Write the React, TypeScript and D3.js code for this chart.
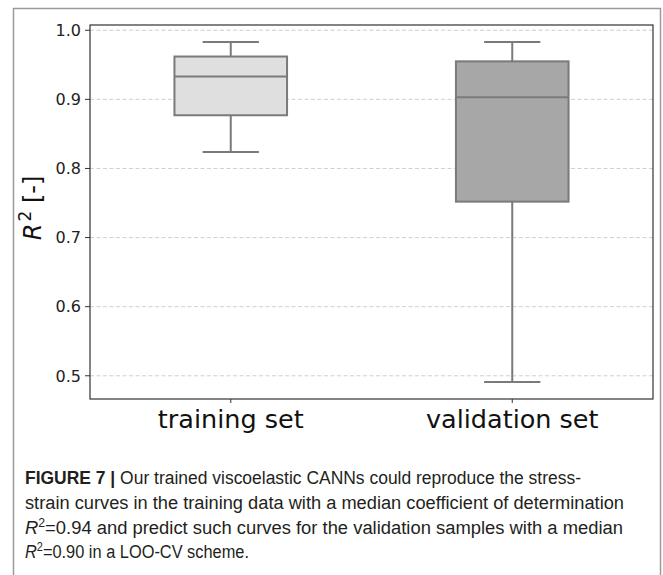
import React from "react";
import * as d3 from "d3";

// Box-plot summaries of R² per data split
const categories = ["training set", "validation set"];
const whiskerLow = [0.824, 0.491];
const q1 = [0.877, 0.752];
const median = [0.933, 0.903];
const q3 = [0.962, 0.955];
const whiskerHigh = [0.983, 0.983];
const boxFills = ["#dfdfdf", "#a7a7a7"];
const yTicks = [0.5, 0.6, 0.7, 0.8, 0.9, 1.0];

const captionLines = [
  "Our trained viscoelastic CANNs could reproduce the stress-",
  "strain curves in the training data with a median coefficient of determination",
  "=0.94 and predict such curves for the validation samples with a median",
  "=0.90 in a LOO-CV scheme.",
];

const W = 663;
const H = 575;
const plot = { left: 90, right: 653, top: 25, bottom: 399 };

export default function App() {
  const lo = d3.min(whiskerLow)!;
  const hi = d3.max(whiskerHigh)!;
  const pad = (hi - lo) * 0.05;
  const y = d3.scaleLinear().domain([lo - pad, hi + pad]).range([plot.bottom, plot.top]);
  const x = d3.scalePoint<string>().domain(categories).range([plot.left, plot.right]).padding(0.5);
  const step = x.step();
  const boxW = step * 0.4;
  const capW = boxW / 2;
  const edge = "#7a7a7a";
  const chartFont = "DejaVu Sans, sans-serif";
  const capFont = "Liberation Sans, Arial, sans-serif";

  return (
    <svg width={W} height={H} style={{ position: "absolute", left: 0, top: 0 }}>
      <rect x={0} y={0} width={W} height={H} fill="#fff" />
      {/* figure frame */}
      <path d={`M13.5,${H} V8.5 H660.5 V${H}`} fill="none" stroke="#9a9a9a" strokeWidth={1.5} />

      {/* grid */}
      {yTicks.map((t) => (
        <line key={t} x1={plot.left} x2={plot.right} y1={y(t)} y2={y(t)}
          stroke="#cfcfcf" strokeWidth={1} strokeDasharray="4,2.5" />
      ))}

      {/* boxes */}
      {categories.map((c, i) => {
        const cx = x(c)!;
        return (
          <g key={c} stroke={edge} strokeWidth={2}>
            <line x1={cx} x2={cx} y1={y(whiskerHigh[i])} y2={y(q3[i])} />
            <line x1={cx} x2={cx} y1={y(q1[i])} y2={y(whiskerLow[i])} />
            <line x1={cx - capW / 2} x2={cx + capW / 2} y1={y(whiskerHigh[i])} y2={y(whiskerHigh[i])} />
            <line x1={cx - capW / 2} x2={cx + capW / 2} y1={y(whiskerLow[i])} y2={y(whiskerLow[i])} />
            <rect x={cx - boxW / 2} y={y(q3[i])} width={boxW} height={y(q1[i]) - y(q3[i])} fill={boxFills[i]} />
            <line x1={cx - boxW / 2} x2={cx + boxW / 2} y1={y(median[i])} y2={y(median[i])} />
          </g>
        );
      })}

      {/* axes frame */}
      <rect x={plot.left} y={plot.top} width={plot.right - plot.left} height={plot.bottom - plot.top}
        fill="none" stroke="#333" strokeWidth={1.2} />

      {/* y ticks */}
      {yTicks.map((t) => (
        <g key={t}>
          <line x1={plot.left - 5} x2={plot.left} y1={y(t)} y2={y(t)} stroke="#333" strokeWidth={1} />
          <text x={plot.left - 9} y={y(t)} dy="0.36em" textAnchor="end" fontFamily={chartFont}
            fontSize={16} fill="#222">{d3.format(".1f")(t)}</text>
        </g>
      ))}

      {/* x ticks */}
      {categories.map((c) => (
        <g key={c}>
          <line x1={x(c)!} x2={x(c)!} y1={plot.bottom} y2={plot.bottom + 4} stroke="#333" strokeWidth={1} />
          <text x={x(c)!} y={428} textAnchor="middle" fontFamily={chartFont} fontSize={25.5} fill="#111">{c}</text>
        </g>
      ))}

      {/* y label */}
      <text transform={`translate(41,${(plot.top + plot.bottom) / 2 - 4}) rotate(-90)`} textAnchor="middle"
        fontFamily={chartFont} fontSize={24} fill="#111">
        <tspan fontStyle="italic">R</tspan>
        <tspan fontSize={17} dy={-10} dx={2}>2</tspan>
        <tspan dy={10}>{"\u00a0[-]"}</tspan>
      </text>

      {/* caption */}
      <g fontFamily={capFont} fontSize={18} fill="#231f20">
        <text x={25} y={484} textLength={556} lengthAdjust="spacingAndGlyphs">
          <tspan fontWeight="bold">FIGURE 7 |</tspan>
          <tspan> {captionLines[0]}</tspan>
        </text>
        <text x={25} y={509} textLength={599} lengthAdjust="spacingAndGlyphs">{captionLines[1]}</text>
        <text x={25} y={534} textLength={598} lengthAdjust="spacingAndGlyphs">
          <tspan fontStyle="italic">R</tspan>
          <tspan fontSize={12} dy={-7}>2</tspan>
          <tspan dy={7}>{captionLines[2]}</tspan>
        </text>
        <text x={25} y={558} textLength={224} lengthAdjust="spacingAndGlyphs">
          <tspan fontStyle="italic">R</tspan>
          <tspan fontSize={12} dy={-7}>2</tspan>
          <tspan dy={7}>{captionLines[3]}</tspan>
        </text>
      </g>
    </svg>
  );
}
